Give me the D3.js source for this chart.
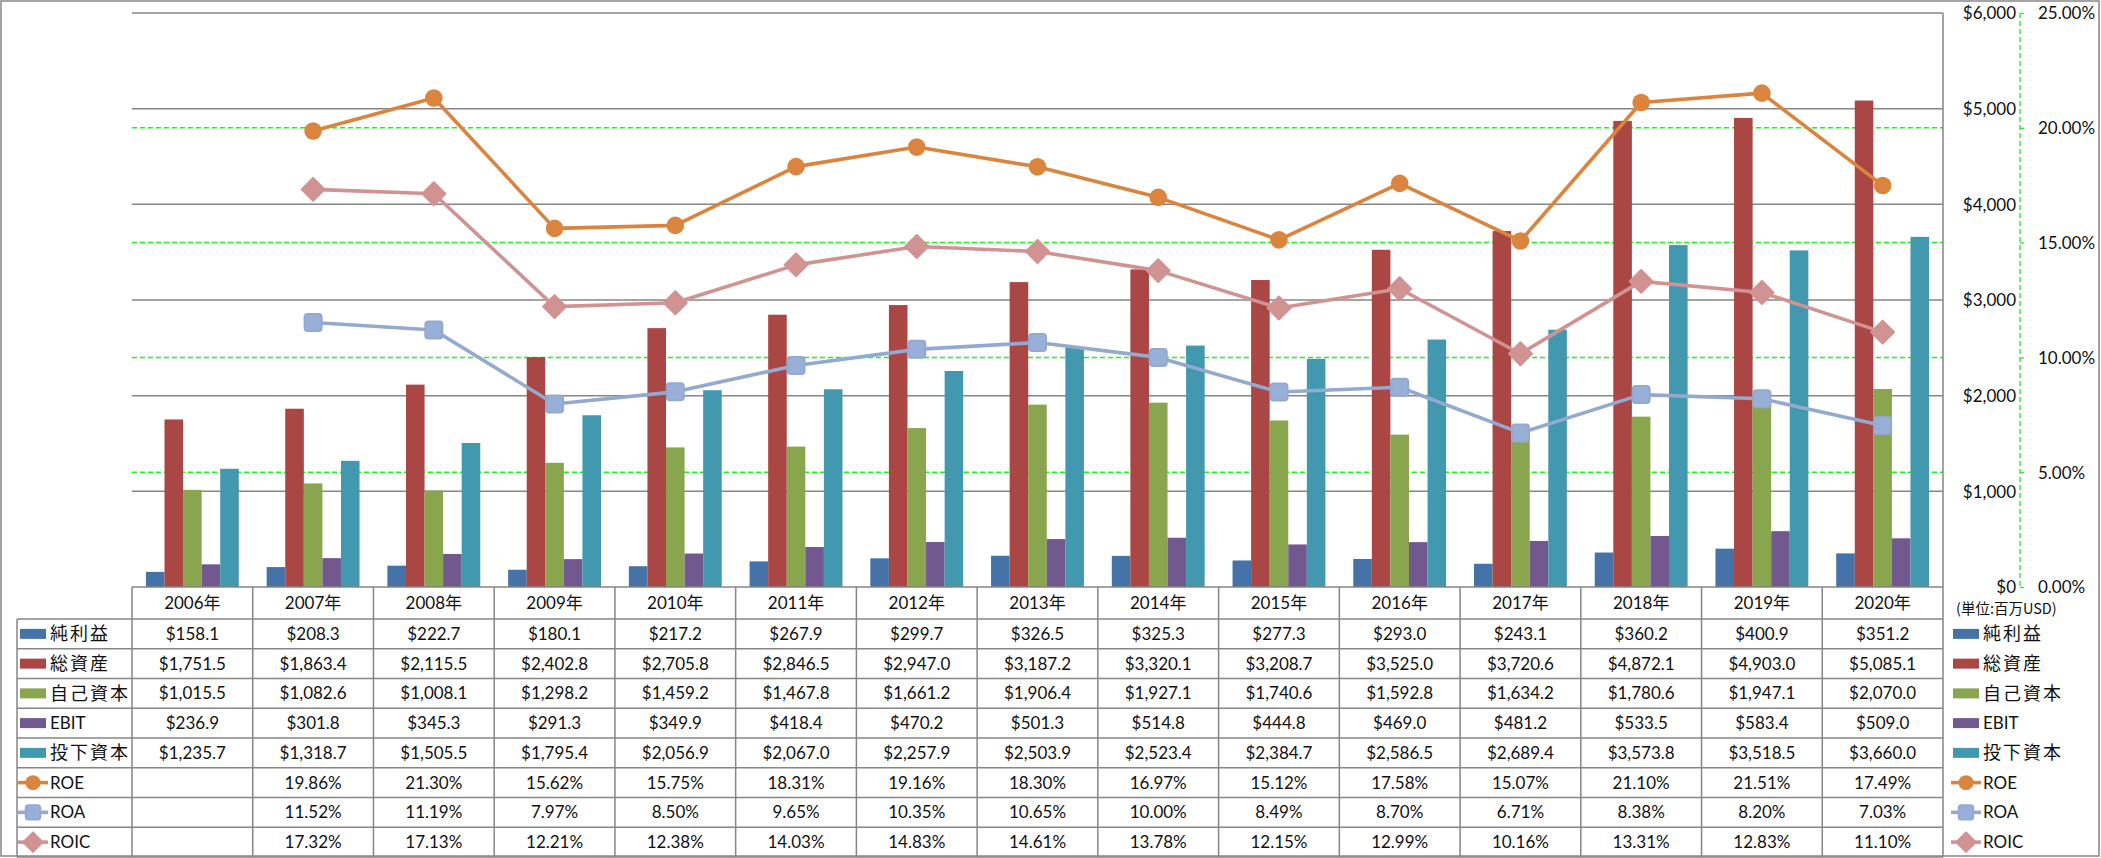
<!DOCTYPE html>
<html><head><meta charset="utf-8">
<script src="https://cdn.jsdelivr.net/npm/d3@7"></script>
<style>
html,body{margin:0;padding:0;background:#fff;}
svg{display:block;}
text{font-family:Lato,"Noto Sans CJK JP",sans-serif;fill:#111;}
.cjk{font-family:"Noto Sans CJK JP",Lato,sans-serif;}
</style></head>
<body>
<svg id="c" width="2101" height="858"></svg>
<script>
const years = ["2006年","2007年","2008年","2009年","2010年","2011年","2012年","2013年","2014年","2015年","2016年","2017年","2018年","2019年","2020年"];
const netIncome = [158.1,208.3,222.7,180.1,217.2,267.9,299.7,326.5,325.3,277.3,293.0,243.1,360.2,400.9,351.2];
const totalAssets = [1751.5,1863.4,2115.5,2402.8,2705.8,2846.5,2947.0,3187.2,3320.1,3208.7,3525.0,3720.6,4872.1,4903.0,5085.1];
const equity = [1015.5,1082.6,1008.1,1298.2,1459.2,1467.8,1661.2,1906.4,1927.1,1740.6,1592.8,1634.2,1780.6,1947.1,2070.0];
const ebit = [236.9,301.8,345.3,291.3,349.9,418.4,470.2,501.3,514.8,444.8,469.0,481.2,533.5,583.4,509.0];
const investedCapital = [1235.7,1318.7,1505.5,1795.4,2056.9,2067.0,2257.9,2503.9,2523.4,2384.7,2586.5,2689.4,3573.8,3518.5,3660.0];
const roe = [null,19.86,21.30,15.62,15.75,18.31,19.16,18.30,16.97,15.12,17.58,15.07,21.10,21.51,17.49];
const roa = [null,11.52,11.19,7.97,8.50,9.65,10.35,10.65,10.00,8.49,8.70,6.71,8.38,8.20,7.03];
const roic = [null,17.32,17.13,12.21,12.38,14.03,14.83,14.61,13.78,12.15,12.99,10.16,13.31,12.83,11.10];
const dollarTicks = [0,1000,2000,3000,4000,5000,6000];
const pctTicks = [0,5,10,15,20,25];
const unitLabel = "(単位:百万USD)";

const barSeries = [
  {name:"純利益", values:netIncome, color:"#4572A7"},
  {name:"総資産", values:totalAssets, color:"#AA4643"},
  {name:"自己資本", values:equity, color:"#89A54E"},
  {name:"EBIT", values:ebit, color:"#71588F"},
  {name:"投下資本", values:investedCapital, color:"#4198AF"}
];
const lineSeries = [
  {name:"ROE", values:roe, color:"#DB843D", marker:"circle"},
  {name:"ROA", values:roa, color:"#93A9CF", marker:"square"},
  {name:"ROIC", values:roic, color:"#D19392", marker:"diamond"}
];

const svg = d3.select("#c");
const L = 132, R = 1943, T = 13, B = 587;
const gridGray = "#868686";
const green = "#22EE22";

// border
svg.append("rect").attr("x",1).attr("y",1).attr("width",2098).attr("height",855)
  .attr("fill","none").attr("stroke",gridGray).attr("stroke-width",1.5);

const x = d3.scaleBand().domain(years).range([L,R]).padding(0);
const xs = d3.scaleBand().domain(barSeries.map(s=>s.name)).range([0,x.bandwidth()]).paddingInner(0).paddingOuter(0.75);
const y = d3.scaleLinear().domain([0,6000]).range([B,T]);
const yp = d3.scaleLinear().domain([0,25]).range([B,T]);

// gridlines
const g = svg.append("g");
g.selectAll("line.gd").data(dollarTicks.slice(1)).join("line")
  .attr("x1",L).attr("x2",R).attr("y1",d=>y(d)).attr("y2",d=>y(d))
  .attr("stroke",gridGray).attr("stroke-width",1.5);
g.selectAll("line.gp").data(pctTicks.slice(1,-1)).join("line")
  .attr("x1",L).attr("x2",R).attr("y1",d=>yp(d)).attr("y2",d=>yp(d))
  .attr("stroke",green).attr("stroke-width",1.5).attr("stroke-dasharray","5,3");

// bars
const bg = svg.append("g");
barSeries.forEach(s=>{
  bg.selectAll(null).data(s.values).join("rect")
    .attr("x",(d,i)=>x(years[i])+xs(s.name))
    .attr("width",xs.bandwidth())
    .attr("y",d=>y(d))
    .attr("height",d=>B-y(d))
    .attr("fill",s.color);
});

// $ axis (right of plot)
svg.append("line").attr("x1",R).attr("x2",R).attr("y1",T).attr("y2",B).attr("stroke",gridGray).attr("stroke-width",1.5);
const yAxis = d3.axisRight(y).tickValues(dollarTicks).tickSize(0).tickPadding(0)
  .tickFormat(d=>"$"+d3.format(",")(d));
const ya = svg.append("g").attr("transform",`translate(2016,0)`).call(yAxis);
ya.select(".domain").remove();
ya.selectAll("text").attr("text-anchor","end").attr("font-size",17).attr("font-family","Lato").attr("fill","#111").attr("dy","0.35em");

// % axis
const pAxis = d3.axisRight(yp).tickValues(pctTicks).tickSize(4).tickPadding(14)
  .tickFormat(d=>d3.format(".2f")(d)+"%");
const pa = svg.append("g").attr("transform",`translate(2020,0)`).call(pAxis);
pa.select(".domain").attr("stroke",green).attr("stroke-width",1.3).attr("stroke-dasharray","5,3").attr("d",`M0,${T}V${B}`);
pa.selectAll(".tick line").attr("stroke",green).attr("stroke-width",1.3);
pa.selectAll("text").attr("font-size",17).attr("font-family","Lato").attr("fill","#111").attr("dy","0.35em");

// markers
function drawMarker(sel, type, color, cx, cy, scale){
  const k = scale||1;
  if(type==="circle"){
    sel.append("circle").attr("cx",cx).attr("cy",cy).attr("r",8.8*k).attr("fill",color);
  } else if(type==="square"){
    const s=17*k;
    sel.append("rect").attr("x",cx-s/2).attr("y",cy-s/2).attr("width",s).attr("height",s).attr("rx",3*k)
      .attr("fill","#98B0D8").attr("stroke",color).attr("stroke-width",2);
  } else {
    const s=11.5*k;
    sel.append("path").attr("d",`M${cx},${cy-s}L${cx+s},${cy}L${cx},${cy+s}L${cx-s},${cy}Z`)
      .attr("fill",color).attr("stroke",color).attr("stroke-width",2).attr("stroke-linejoin","round");
  }
}

// lines
const lg = svg.append("g");
lineSeries.forEach(s=>{
  const line = d3.line().defined(d=>d!=null).x((d,i)=>x(years[i])+x.bandwidth()/2).y(d=>yp(d));
  lg.append("path").attr("d",line(s.values)).attr("fill","none").attr("stroke",s.color).attr("stroke-width",3.6).attr("stroke-linejoin","round");
  s.values.forEach((d,i)=>{ if(d!=null) drawMarker(lg,s.marker,s.color,x(years[i])+x.bandwidth()/2,yp(d)); });
});

// data table
const headerH = 32;
const rowTop = B+headerH;
const rowH = (857-rowTop)/8;
const tl = svg.append("g");
const tableLeft = 17;
const lineCol = gridGray;
// horizontal lines
tl.append("line").attr("x1",L).attr("x2",R).attr("y1",B).attr("y2",B).attr("stroke",lineCol).attr("stroke-width",1.5);
for(let r=0;r<=8;r++){
  const yy = rowTop + r*rowH;
  tl.append("line").attr("x1",tableLeft).attr("x2",R).attr("y1",yy).attr("y2",yy).attr("stroke",lineCol).attr("stroke-width",1.5);
}
// vertical lines
years.forEach((yr,i)=>{
  tl.append("line").attr("x1",x(yr)).attr("x2",x(yr)).attr("y1",B).attr("y2",857).attr("stroke",lineCol).attr("stroke-width",1.5);
});
tl.append("line").attr("x1",R).attr("x2",R).attr("y1",B).attr("y2",857).attr("stroke",lineCol).attr("stroke-width",1.5);
tl.append("line").attr("x1",tableLeft).attr("x2",tableLeft).attr("y1",rowTop).attr("y2",857).attr("stroke",lineCol).attr("stroke-width",1.5);

// header
tl.selectAll("text.hd").data(years).join("text")
  .attr("x",d=>x(d)+x.bandwidth()/2).attr("y",B+headerH/2).attr("dy","0.36em")
  .attr("text-anchor","middle").attr("font-size",17).text(d=>d);

const fmtD = d=>"$"+d3.format(",.1f")(d);
const fmtP = d=>d==null?"":d3.format(".2f")(d)+"%";
const rows = barSeries.map(s=>({name:s.name,color:s.color,type:"bar",values:s.values,fmt:fmtD}))
  .concat(lineSeries.map(s=>({name:s.name,color:s.color,type:"line",marker:s.marker,values:s.values,fmt:fmtP})));

function legendKey(sel,row,kx,cy){
  if(row.type==="bar"){
    sel.append("rect").attr("x",kx).attr("y",cy-5).attr("width",26).attr("height",10).attr("fill",row.color);
  } else {
    sel.append("line").attr("x1",kx-2).attr("x2",kx+28).attr("y1",cy).attr("y2",cy).attr("stroke",row.color).attr("stroke-width",3.6);
    drawMarker(sel,row.marker,row.color,kx+13,cy,0.85);
  }
}
function legendText(sel,row,tx,cy){
  const isCjk = /[^\x00-\x7F]/.test(row.name);
  sel.append("text").attr("x",tx).attr("y",cy).attr("dy","0.36em")
    .attr("class",isCjk?"cjk":null).attr("font-size",isCjk?18:17)
    .attr("letter-spacing",isCjk?2:0).text(row.name);
}

rows.forEach((row,r)=>{
  const cy = rowTop + r*rowH + rowH/2;
  legendKey(tl,row,20,cy);
  legendText(tl,row,50,cy);
  row.values.forEach((v,i)=>{
    tl.append("text").attr("x",x(years[i])+x.bandwidth()/2).attr("y",cy).attr("dy","0.36em")
      .attr("text-anchor","middle").attr("font-size",17).text(row.fmt(v));
  });
  // right legend
  legendKey(tl,row,1953,cy);
  legendText(tl,row,1983,cy);
});

svg.append("text").attr("class","cjk").attr("x",1956).attr("y",609).attr("dy","0.36em")
  .attr("font-size",14.5).text(unitLabel);
</script>
</body></html>
